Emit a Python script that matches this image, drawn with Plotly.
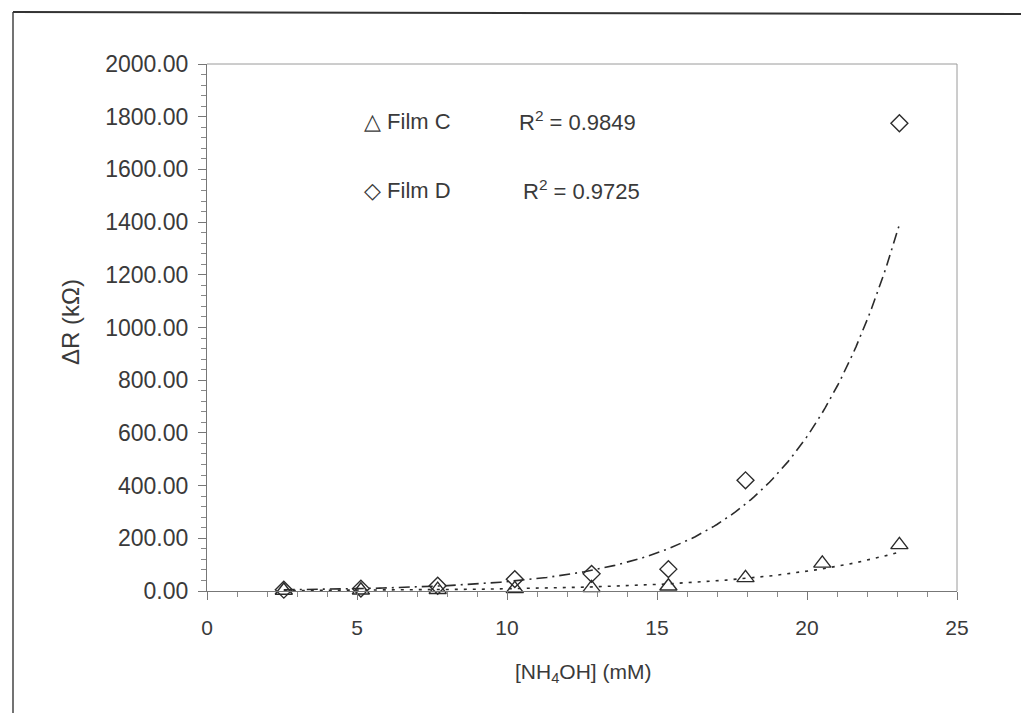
import numpy as np
import plotly.graph_objects as go

# ---- data ----
conc_C = [2.56, 5.13, 7.69, 10.26, 12.82, 15.38, 17.95, 20.51, 23.08]
dR_C = [2, 3, 5, 8, 12, 18, 50, 105, 175]

conc_D = [2.56, 5.13, 7.69, 10.26, 12.82, 15.38, 17.95, 23.08]
dR_D = [5, 9, 20, 45, 65, 83, 420, 1775]

y_ticks = [0, 200, 400, 600, 800, 1000, 1200, 1400, 1600, 1800, 2000]
x_ticks = [0, 5, 10, 15, 20, 25]

r2_C_text = "R<sup>2</sup> = 0.9849"
r2_D_text = "R<sup>2</sup> = 0.9725"

FONT = "Liberation Sans, Arial, sans-serif"
INK = "#2b2b2b"
TXT = "#3a3a3a"


def exp_fit(x, y):
    """Excel-style exponential trendline: linear fit of ln(y) on x."""
    x = np.asarray(x, float)
    b, lna = np.polyfit(x, np.log(np.asarray(y, float)), 1)
    xs = np.linspace(x.min(), x.max(), 200)
    return xs, np.exp(lna) * np.exp(b * xs)


xC, yC = exp_fit(conc_C, dR_C)
xD, yD = exp_fit(conc_D, dR_D)

fig = go.Figure()

fig.add_trace(go.Scatter(x=xD, y=yD, mode="lines",
                         line=dict(color=INK, width=1.6, dash="11px,5px,2px,5px"),
                         showlegend=False, cliponaxis=False))
fig.add_trace(go.Scatter(x=xC, y=yC, mode="lines",
                         line=dict(color=INK, width=1.6, dash="3px,6px"),
                         showlegend=False, cliponaxis=False))
fig.add_trace(go.Scatter(x=conc_C, y=dR_C, mode="markers", name="Film C",
                         marker=dict(symbol="triangle-up-open", size=15,
                                     color=INK, line=dict(width=1.4, color=INK)),
                         showlegend=False, cliponaxis=False))
fig.add_trace(go.Scatter(x=conc_D, y=dR_D, mode="markers", name="Film D",
                         marker=dict(symbol="diamond-open", size=13,
                                     color=INK, line=dict(width=1.4, color=INK)),
                         showlegend=False, cliponaxis=False))

# page has an 8px body margin: figure pixel = page pixel - 8
OFF = 8
W, H = 1013, 705
L = 207 - OFF
R = W - (957 - OFF)
T = 64 - OFF
B = H - (591 - OFF)
pw, ph = W - L - R, H - T - B


def px_x(p):
    return (p - OFF - L) / pw


def px_y(p):
    return (H - B - (p - OFF)) / ph


ann_font = dict(family=FONT, size=22, color=TXT)
fig.add_annotation(x=px_x(362), y=px_y(121), xref="paper", yref="paper",
                   text="△ Film C", showarrow=False, xanchor="left", yanchor="middle",
                   font=ann_font)
fig.add_annotation(x=px_x(517), y=px_y(121), xref="paper", yref="paper",
                   text=r2_C_text, showarrow=False, xanchor="left", yanchor="middle",
                   font=ann_font)
fig.add_annotation(x=px_x(362), y=px_y(190), xref="paper", yref="paper",
                   text="◇ Film D", showarrow=False, xanchor="left", yanchor="middle",
                   font=ann_font)
fig.add_annotation(x=px_x(521), y=px_y(190), xref="paper", yref="paper",
                   text=r2_D_text, showarrow=False, xanchor="left", yanchor="middle",
                   font=ann_font)

# axis titles
fig.add_annotation(x=px_x(70), y=px_y(322), xref="paper", yref="paper",
                   text="ΔR (kΩ)", showarrow=False, textangle=-90,
                   xanchor="center", yanchor="middle",
                   font=dict(family=FONT, size=24, color=TXT))
fig.add_annotation(x=px_x(583), y=px_y(673), xref="paper", yref="paper",
                   text="[NH<sub>4</sub>OH] (mM)", showarrow=False,
                   xanchor="center", yanchor="middle",
                   font=dict(family=FONT, size=21, color=TXT))

# outer chart-area frame (left and top edges)
fig.add_shape(type="line", xref="paper", yref="paper",
              x0=px_x(13), x1=px_x(13), y0=px_y(12), y1=px_y(721),
              line=dict(color="#444", width=1.5))
fig.add_shape(type="line", xref="paper", yref="paper",
              x0=px_x(13), x1=px_x(1029), y0=px_y(12), y1=px_y(14),
              line=dict(color="#333", width=2))
# plot-area top & right edges
fig.add_shape(type="line", xref="paper", yref="paper",
              x0=0, x1=1, y0=1, y1=1, line=dict(color="#9a9a9a", width=1))
fig.add_shape(type="line", xref="paper", yref="paper",
              x0=1, x1=1, y0=0, y1=1, line=dict(color="#9a9a9a", width=1))

fig.update_xaxes(range=[0, 25], tickvals=x_ticks, ticktext=[str(v) for v in x_ticks],
                 showgrid=False, zeroline=False, showline=True,
                 linecolor="#777", linewidth=1.2,
                 ticks="outside", ticklen=8, tickcolor="#777", tickwidth=1,
                 ticklabelstandoff=10,
                 minor=dict(dtick=1, ticks="outside", ticklen=5, tickcolor="#888", showgrid=False),
                 tickfont=dict(family=FONT, size=21, color=TXT))
fig.update_yaxes(range=[0, 2000], tickvals=y_ticks, tickformat=".2f",
                 showgrid=False, zeroline=False, showline=True,
                 linecolor="#777", linewidth=1.2,
                 ticks="outside", ticklen=8, tickcolor="#777", tickwidth=1,
                 ticklabelstandoff=5,
                 minor=dict(dtick=40, ticks="outside", ticklen=5, tickcolor="#888", showgrid=False),
                 tickfont=dict(family=FONT, size=23, color=TXT))

fig.update_layout(width=W, height=H,
                  margin=dict(l=L, r=R, t=T, b=B),
                  paper_bgcolor="#ffffff", plot_bgcolor="#ffffff",
                  showlegend=False)

fig.write_html("out.html")
